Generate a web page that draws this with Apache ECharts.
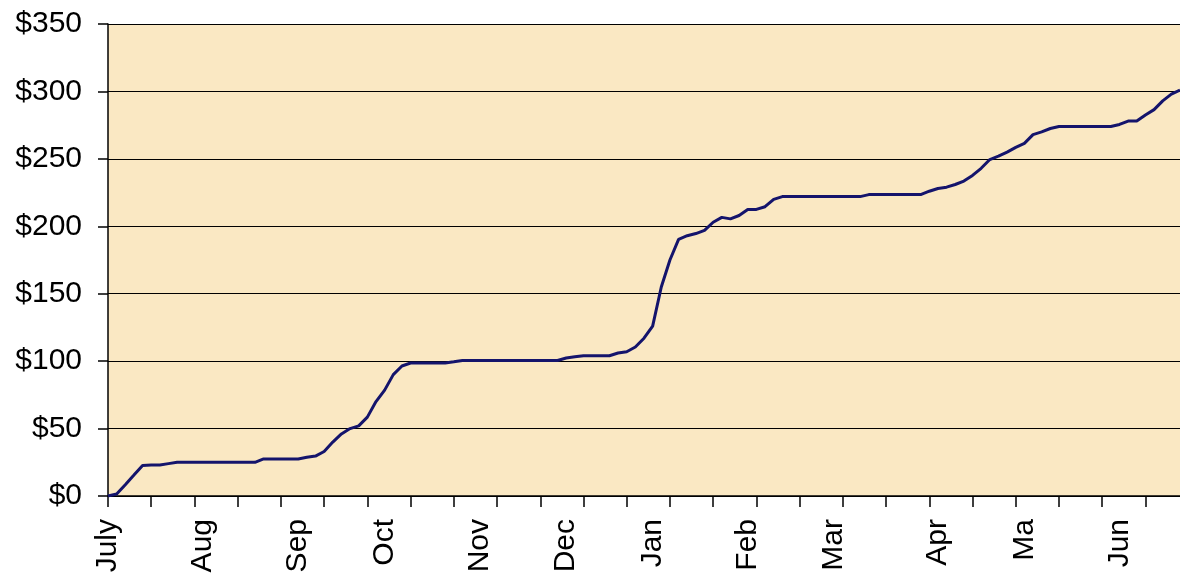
<!DOCTYPE html>
<html>
<head>
<meta charset="utf-8">
<title>Cumulative</title>
<script src="https://cdn.jsdelivr.net/npm/echarts@6/dist/echarts.min.js"></script>
<style>
  html, body { margin: 0; padding: 0; background: #ffffff; }
  #chart { width: 1180px; height: 579px; }
</style>
</head>
<body>
<div id="chart"></div>
<script>
// month names and the sample index where each one is labelled
const monthNames = ['July', 'Aug', 'Sep', 'Oct', 'Nov', 'Dec', 'Jan', 'Feb', 'Mar', 'Apr', 'Ma', 'Jun'];
const monthStarts = [0, 11, 22, 32, 43, 53, 63, 74, 84, 96, 106, 117];

// running total in dollars, one value per sample
const totals = [
  0, 1.5, 8.4, 15.5, 22.7, 23, 23, 24, 25, 25,
  25, 25, 25, 25, 25, 25, 25, 25, 27.5, 27.5,
  27.5, 27.5, 27.5, 28.7, 29.6, 33, 40, 46, 50, 52,
  58.5, 70, 78.5, 90, 96.4, 98.6, 98.6, 98.6, 98.6, 98.6,
  99.5, 100.5, 100.5, 100.5, 100.5, 100.5, 100.5, 100.5, 100.5, 100.5,
  100.5, 100.5, 100.5, 102.3, 103.2, 104, 104, 104, 104, 106,
  107, 110.5, 117, 126, 155, 175, 190.3, 193, 194.6, 197,
  203, 206.6, 205.5, 208, 212.5, 212.5, 214.5, 220, 222, 222,
  222, 222, 222, 222, 222, 222, 222, 222, 223.5, 223.5,
  223.5, 223.5, 223.5, 223.5, 223.5, 226, 228, 229, 231, 233.5,
  237.7, 243, 249.5, 252, 255, 258.5, 261.5, 268, 270, 272.5,
  274, 274, 274, 274, 274, 274, 274, 275.5, 278, 278,
  282.5, 286.5, 293, 298, 301
];

const yTicks = { min: 0, max: 350, step: 50 };
const tickEvery = 5;

// category labels: month name at its start, blank elsewhere
const categories = totals.map(function (v, i) {
  const k = monthStarts.indexOf(i);
  return k >= 0 ? monthNames[k] : '';
});

const chart = echarts.init(document.getElementById('chart'), null, { renderer: 'canvas' });

const option = {
  backgroundColor: '#ffffff',
  animation: false,
  textStyle: { fontFamily: 'Liberation Sans, Arial, sans-serif', color: '#000' },
  grid: {
    left: 108,
    right: 0,
    top: 24,
    bottom: 83,
    containLabel: false,
    outerBoundsMode: 'none',
    show: true,
    backgroundColor: '#fae8c3',
    borderWidth: 0
  },
  xAxis: {
    type: 'category',
    data: categories,
    boundaryGap: false,
    axisLine: { show: true, onZero: false, lineStyle: { color: '#000', width: 1.5 } },
    axisTick: {
      show: true,
      length: 11,
      interval: function (index) { return index % tickEvery === 0; },
      lineStyle: { color: '#000', width: 1.5 }
    },
    axisLabel: {
      rotate: 90,
      margin: 23,
      fontSize: 30,
      color: '#000',
      fontFamily: 'Liberation Sans, Arial, sans-serif',
      interval: function (index, value) { return value !== ''; }
    },
    splitLine: { show: false }
  },
  yAxis: {
    type: 'value',
    min: yTicks.min,
    max: yTicks.max,
    interval: yTicks.step,
    axisLine: { show: true, lineStyle: { color: '#000', width: 1.5 } },
    axisTick: { show: true, length: 10, lineStyle: { color: '#000', width: 1.5 } },
    axisLabel: {
      margin: 26,
      fontSize: 30,
      color: '#000',
      fontFamily: 'Liberation Sans, Arial, sans-serif',
      formatter: function (v) { return '$' + v; }
    },
    splitLine: { show: true, lineStyle: { color: '#000', width: 1.2 } }
  },
  series: [
    {
      type: 'line',
      data: totals,
      showSymbol: false,
      symbol: 'none',
      smooth: false,
      lineStyle: { color: '#14146c', width: 3 },
      emphasis: { disabled: true }
    }
  ]
};

chart.setOption(option);
</script>
</body>
</html>
